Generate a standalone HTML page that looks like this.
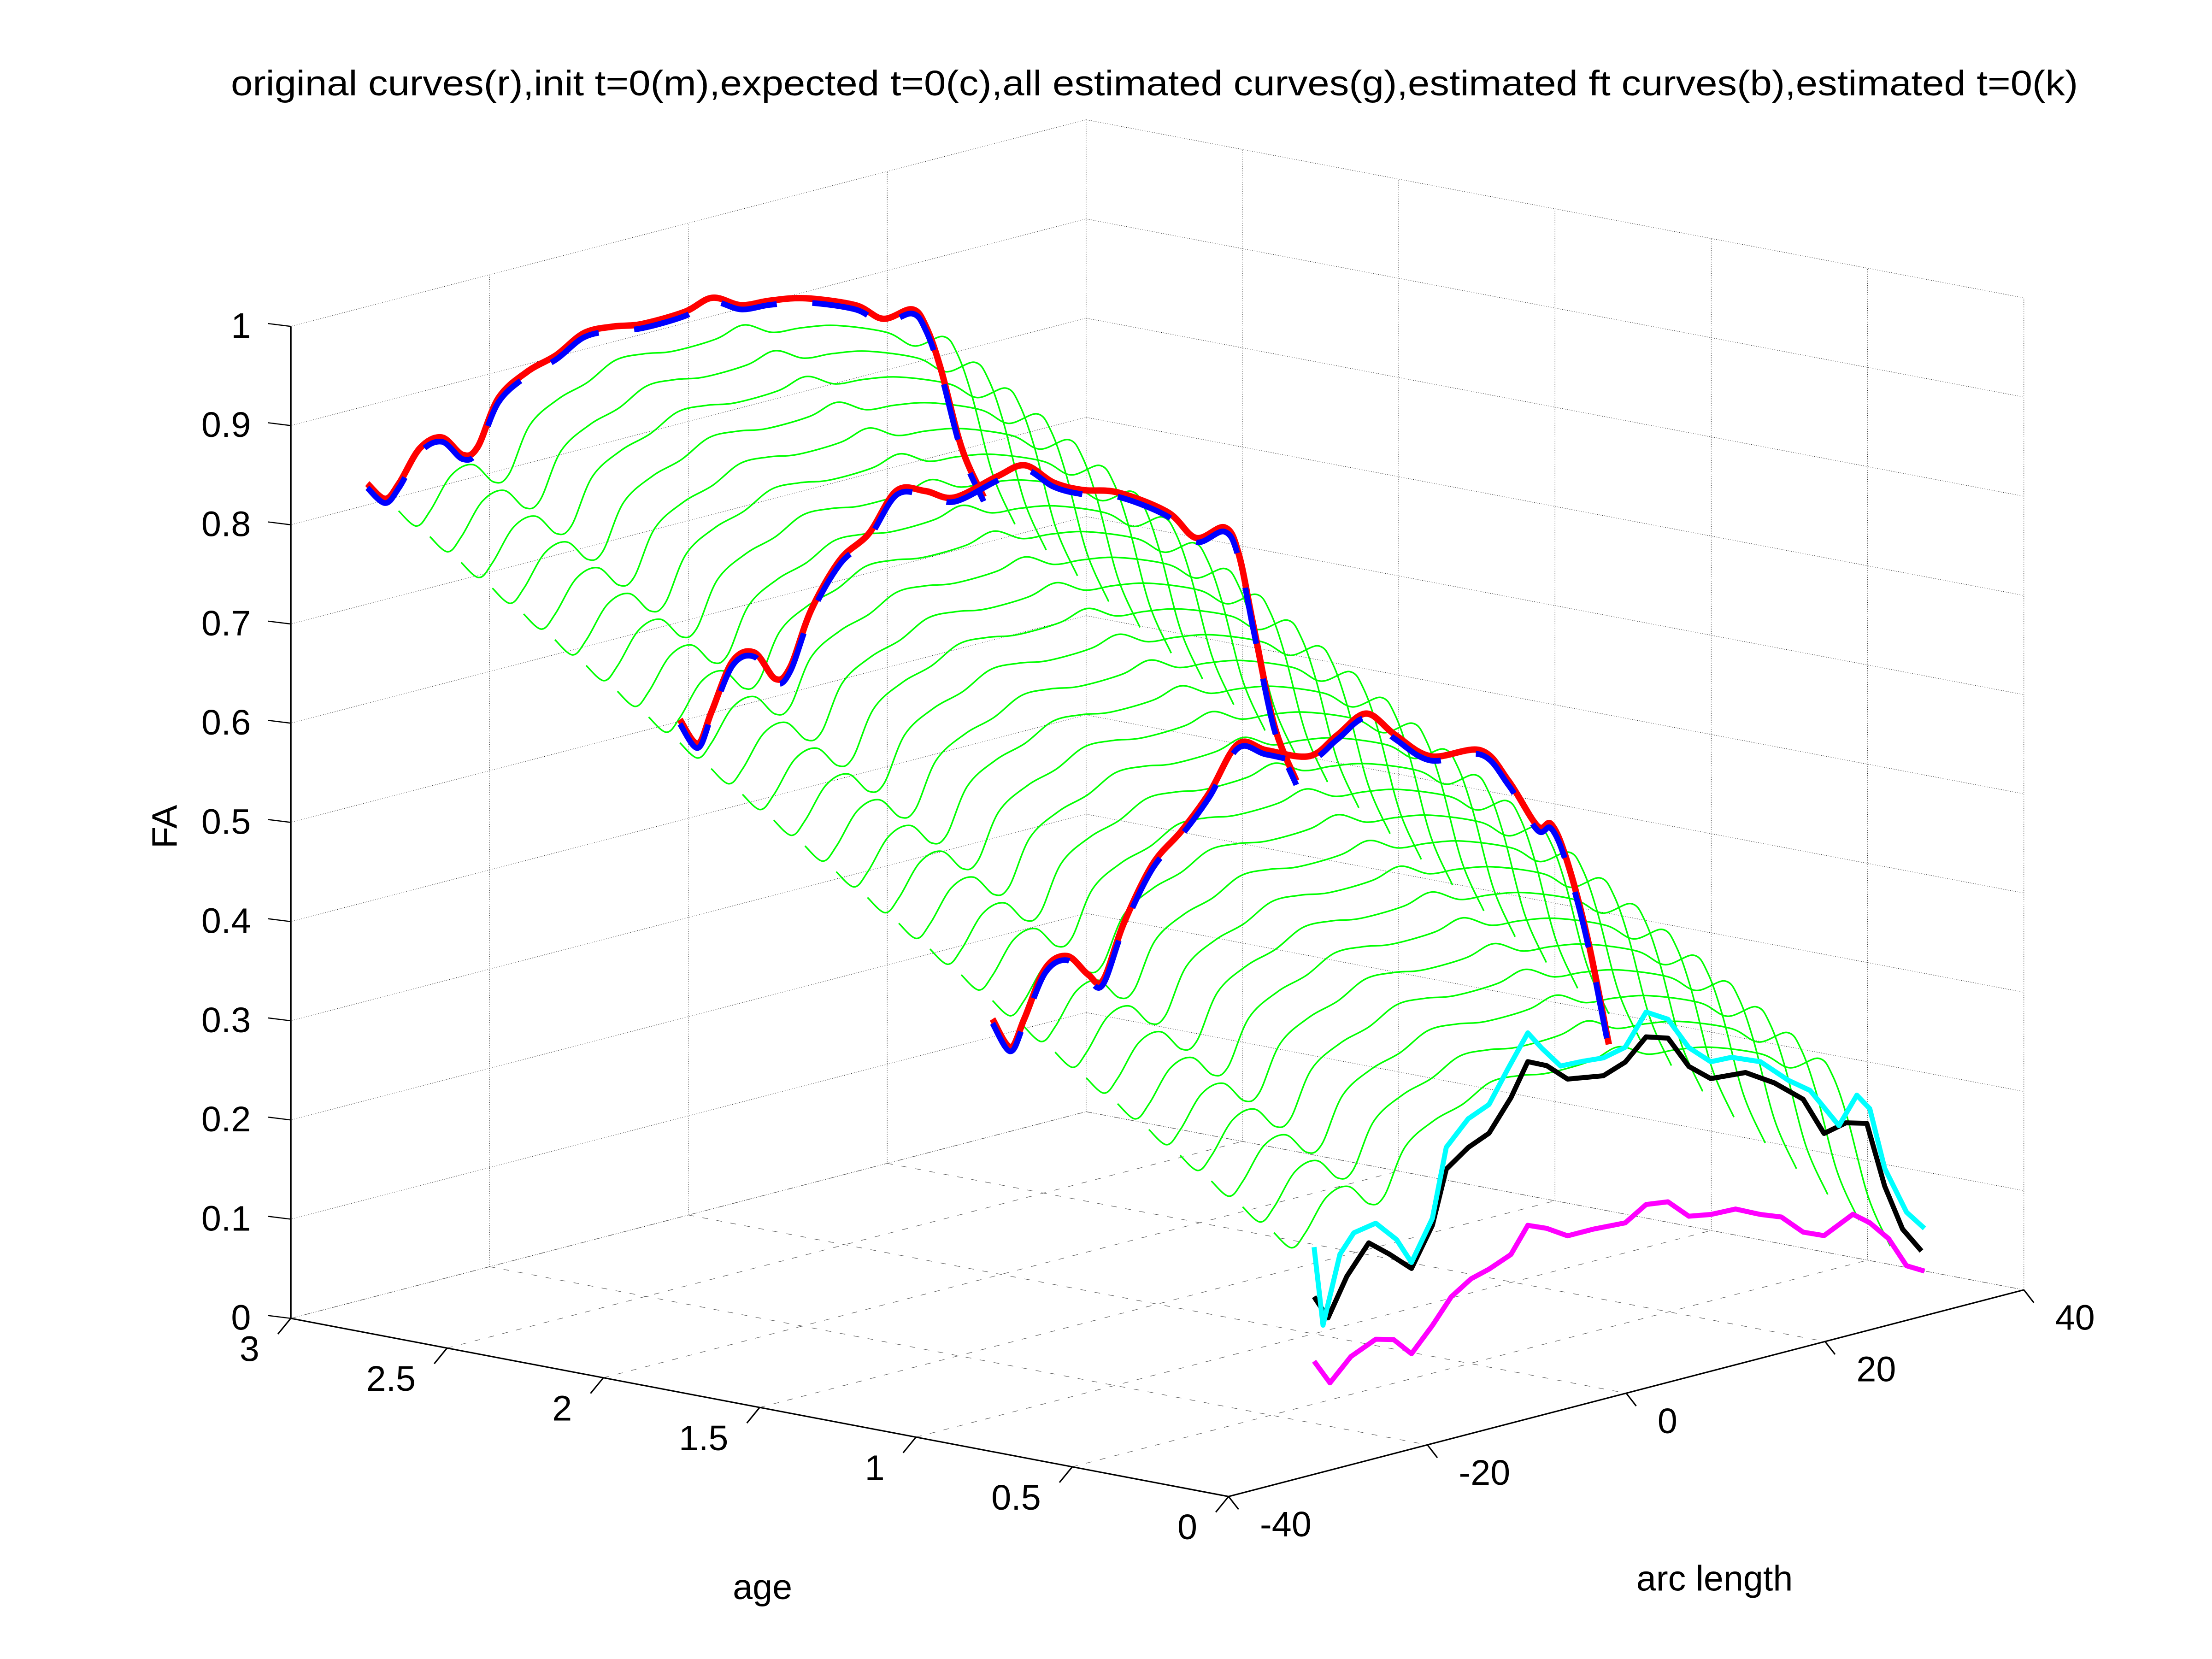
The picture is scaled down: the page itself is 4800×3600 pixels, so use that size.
<!DOCTYPE html>
<html><head><meta charset="utf-8"><style>
html,body{margin:0;padding:0;background:#fff}
svg{display:block}
text{font-family:"Liberation Sans",Arial,sans-serif;fill:#000}
</style></head><body>
<svg id="chart" width="4800" height="3600" viewBox="0 0 1552 1164" xmlns="http://www.w3.org/2000/svg">
<rect width="1552" height="1164" fill="#fff"/>
<text x="810" y="67" font-size="25" text-anchor="middle" textLength="1296" lengthAdjust="spacingAndGlyphs">original curves(r),init t=0(m),expected t=0(c),all estimated curves(g),estimated ft curves(b),estimated t=0(k)</text>
<g id="grid"></g>
<g id="greens"></g>
<g id="series"></g>
<g id="axes"></g>
<text x="124" y="580" font-size="25" text-anchor="middle" transform="rotate(-90 124 580)">FA</text>
<text x="535" y="1122" font-size="25" text-anchor="middle">age</text>
<text x="1203" y="1116" font-size="25" text-anchor="middle">arc length</text>
</svg>
<script>
const faTicks = [0,0.1,0.2,0.3,0.4,0.5,0.6,0.7,0.8,0.9,1];
const faTickLabels = ["0","0.1","0.2","0.3","0.4","0.5","0.6","0.7","0.8","0.9","1"];
const ageTicks = [0,0.5,1,1.5,2,2.5,3];
const ageTickLabels = ["0","0.5","1","1.5","2","2.5","3"];
const arcTicks = [-40,-20,0,20,40];
const arcTickLabels = ["-40","-20","0","20","40"];

const arcGrid = [-32.3,-30.5,-29.1,-27.0,-24.8,-22.7,-21.2,-19.1,-16.2,-13.3,-10.5,-7.6,-4.7,-0.4,2.4,5.3,8.2,11.8,16.8,19.6,22.5,23.9,25.4,27.5,29.7];
const orig3 = [0.82,0.80,0.812,0.842,0.847,0.824,0.828,0.872,0.891,0.900,0.915,0.914,0.909,0.910,0.917,0.902,0.899,0.892,0.872,0.851,0.853,0.832,0.785,0.70,0.645];
const orig2 = [0.642,0.613,0.642,0.687,0.690,0.658,0.666,0.718,0.761,0.780,0.816,0.808,0.794,0.804,0.808,0.783,0.768,0.756,0.723,0.690,0.693,0.663,0.586,0.480,0.419];
const orig1 = [0.40,0.367,0.392,0.437,0.444,0.420,0.410,0.462,0.514,0.540,0.571,0.613,0.599,0.582,0.596,0.610,0.581,0.550,0.543,0.505,0.452,0.450,0.412,0.328,0.213];
const curveAges = [3,2,1];

const blackArc = [-31.4,-30.0,-28.1,-25.9,-23.8,-21.6,-19.5,-18.1,-15.9,-13.8,-11.6,-9.9,-8.0,-5.9,-2.3,-0.1,2.0,4.2,6.3,8.5,12.0,14.9,17.8,19.9,22.1,24.2,26.0,27.8,29.7];
const blackFa = [0.179,0.154,0.191,0.219,0.202,0.182,0.220,0.273,0.289,0.298,0.328,0.360,0.351,0.332,0.326,0.334,0.354,0.347,0.313,0.295,0.292,0.274,0.250,0.210,0.215,0.209,0.141,0.093,0.066];
const cyanArc = [-31.4,-30.5,-28.8,-27.4,-25.2,-23.1,-21.6,-19.5,-18.1,-15.9,-13.8,-11.9,-9.9,-8.5,-6.6,-4.4,-2.3,-0.1,2.0,4.2,6.3,8.5,10.6,13.5,16.3,18.5,21.4,23.2,24.5,26.0,28.2,30.0];
const cyanFa = [0.229,0.148,0.215,0.233,0.237,0.215,0.188,0.227,0.295,0.318,0.327,0.358,0.389,0.370,0.347,0.346,0.344,0.349,0.379,0.366,0.332,0.312,0.311,0.299,0.273,0.257,0.214,0.240,0.223,0.159,0.109,0.088];
const magArc = [-31.4,-29.8,-27.7,-25.2,-23.4,-21.6,-19.5,-17.6,-15.6,-13.8,-11.6,-9.9,-8.0,-5.9,-3.3,-0.1,2.0,4.2,6.3,8.5,11.0,13.5,15.6,17.8,19.9,22.8,24.5,26.4,28.2,30.0];
const magFa = [0.114,0.088,0.109,0.120,0.115,0.096,0.119,0.143,0.156,0.161,0.170,0.195,0.187,0.174,0.174,0.172,0.185,0.182,0.162,0.158,0.157,0.145,0.137,0.116,0.107,0.121,0.108,0.087,0.055,0.045];

const greenAges = [2.9,2.8,2.7,2.6,2.5,2.4,2.3,2.2,2.1,2.0,1.9,1.8,1.7,1.6,1.5,1.4,1.3,1.2,1.1,1.0,0.9,0.8,0.7,0.6,0.5,0.4,0.3,0.2,0.1];
const greenDrop = [0.02,0.04,0.06,0.08,0.10,0.12,0.14,0.16,0.18,0.20,0.22,0.24,0.26,0.28,0.30,0.32,0.34,0.36,0.38,0.40,0.42,0.44,0.46,0.48,0.50,0.52,0.54,0.56,0.58];

const NS = "http://www.w3.org/2000/svg";
const O = [204,925], A = [658,125], B = [558,-145], C = [0,-696];
function P(age, arc, fa){
  const a = (3-age)/3, b = (arc+40)/80;
  return [O[0]+a*A[0]+b*B[0]+fa*C[0], O[1]+a*A[1]+b*B[1]+fa*C[1]];
}
function mk(tag, attrs, parent){
  const e = document.createElementNS(NS, tag);
  for (const k in attrs) e.setAttribute(k, attrs[k]);
  parent.appendChild(e); return e;
}
function line(p,q,parent,stroke,w,dash){
  const l = mk('line',{x1:p[0],y1:p[1],x2:q[0],y2:q[1],stroke:stroke,'stroke-width':w},parent);
  if (dash) l.setAttribute('stroke-dasharray',dash);
  return l;
}
const grid = document.getElementById('grid');
const gd = "0.35 0.9";
const fd = "4 6";
faTicks.forEach(f=>{ const l=line(P(3,-40,f),P(3,40,f),grid,'#000',0.35,gd);

});
arcTicks.forEach(a=>{ const l=line(P(3,a,0),P(3,a,1),grid,'#000',0.35,gd);

});
faTicks.forEach(f=>{ const l=line(P(3,40,f),P(0,40,f),grid,'#000',0.35,gd);

});
ageTicks.forEach(a=>{ const l=line(P(a,40,0),P(a,40,1),grid,'#000',0.35,gd);

});
ageTicks.forEach(a=>{ const l=line(P(a,-40,0),P(a,40,0),grid,'#555',0.35,fd);

});
arcTicks.forEach(a=>{ const l=line(P(3,a,0),P(0,a,0),grid,'#555',0.35,fd);

});

function smoothPath(ptsArr){
  let d = 'M'+ptsArr[0][0].toFixed(2)+','+ptsArr[0][1].toFixed(2);
  for (let i=0;i<ptsArr.length-1;i++){
    const p0=ptsArr[Math.max(0,i-1)], p1=ptsArr[i], p2=ptsArr[i+1], p3=ptsArr[Math.min(ptsArr.length-1,i+2)];
    const c1=[p1[0]+(p2[0]-p0[0])/6, p1[1]+(p2[1]-p0[1])/6];
    const c2=[p2[0]-(p3[0]-p1[0])/6, p2[1]-(p3[1]-p1[1])/6];
    d += ' C'+c1[0].toFixed(2)+','+c1[1].toFixed(2)+' '+c2[0].toFixed(2)+','+c2[1].toFixed(2)+' '+p2[0].toFixed(2)+','+p2[1].toFixed(2);
  }
  return d;
}
function curve(age, arcs, fas, parent, stroke, w, name, dash, smooth, dy){
  const ps = arcs.map((a,i)=>{const p=P(age,a,fas[i]); return [p[0], p[1]+(dy||0)];});
  const d = smooth ? smoothPath(ps) : 'M'+ps.map(p=>p[0].toFixed(2)+','+p[1].toFixed(2)).join(' L');
  const e = mk('path',{d:d,fill:'none',stroke:stroke,'stroke-width':w,'stroke-linejoin':'round'},parent);
  if (dash) e.setAttribute('stroke-dasharray',dash);
  
  
  return e;
}
const greens = document.getElementById('greens');
greenAges.forEach((ag,i)=>{
  const fas = orig3.map(v=>v-greenDrop[i]);
  curve(ag, arcGrid, fas, greens, '#00ff00', 1.1, 'estimated-curve-green', null, true, 0);
});
const series = document.getElementById('series');
[orig3,orig2,orig1].forEach((arr,i)=>{
  const ag = curveAges[i];
  curve(ag, arcGrid, arr, series, '#ff0000', 4.5, 'original-curve-red', null, true, -1);
  curve(ag, arcGrid, arr, series, '#0000ff', 4, 'estimated-ft-curve-blue', '40 25', true, 2);
});
curve(0, magArc, magFa, series, '#ff00ff', 3.5, 'init-t0-magenta', null, false, 0);
curve(0, blackArc, blackFa, series, '#000000', 3.5, 'estimated-t0-black', null, false, 0);
curve(0, cyanArc, cyanFa, series, '#00ffff', 3.5, 'expected-t0-cyan', null, false, 0);

const axes = document.getElementById('axes');
line(P(3,-40,0),P(3,-40,1),axes,'#000',1.2);
line(P(3,-40,0),P(0,-40,0),axes,'#000',1);
line(P(0,-40,0),P(0,40,0),axes,'#000',1);
faTicks.forEach((f,i)=>{
  const p=P(3,-40,f);
  line(p,[p[0]-16,p[1]-2],axes,'#000',0.8);
  const t=mk('text',{x:p[0]-28,y:p[1]+8,'font-size':25,'text-anchor':'end'},axes);
  t.textContent=faTickLabels[i];
  
  
});
ageTicks.forEach((a,i)=>{
  const p=P(a,-40,0);
  line(p,[p[0]-9,p[1]+11],axes,'#000',1);
  const t=mk('text',{x:p[0]-22,y:p[1]+30,'font-size':25,'text-anchor':'end'},axes);
  t.textContent=ageTickLabels[i];
  
  
});
arcTicks.forEach((a,i)=>{
  const p=P(0,a,0);
  line(p,[p[0]+7,p[1]+9],axes,'#000',1);
  const t=mk('text',{x:p[0]+22,y:p[1]+28,'font-size':25,'text-anchor':'start'},axes);
  t.textContent=arcTickLabels[i];
  
  
});
</script>
</body></html>
